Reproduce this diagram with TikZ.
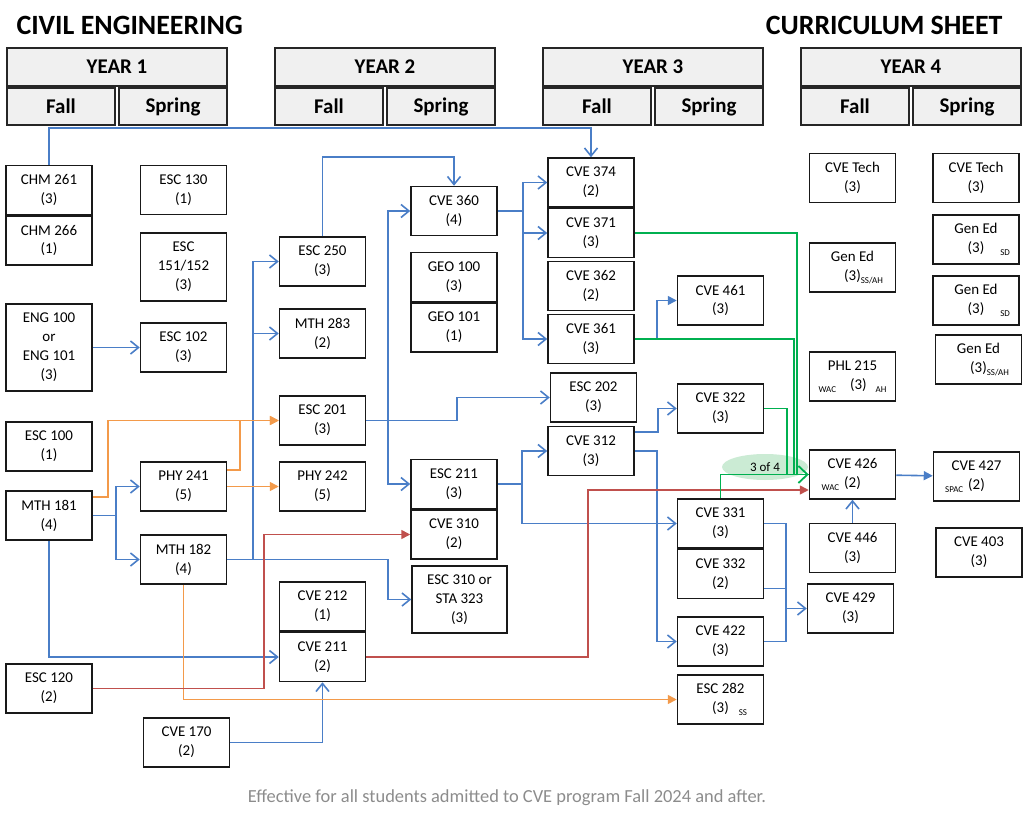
\documentclass[tikz,border=0pt]{standalone}
\usepackage{fontspec}
\setmainfont{Carlito}
\usepackage{tikz}
\usetikzlibrary{arrows.meta, positioning, shapes.geometric}

\definecolor{lienbleu}{HTML}{4A7EC7}
\definecolor{lienorange}{HTML}{F39A4A}
\definecolor{lienrouge}{HTML}{C0504D}
\definecolor{lienvert}{HTML}{00B050}
\definecolor{vertclair}{HTML}{CBEBD4}
\definecolor{gristexte}{HTML}{8C8C8C}

\newcommand{\smalltag}[1]{\raisebox{-3pt}{\fontsize{9}{9}\selectfont #1}}

\begin{document}
\begin{tikzpicture}[
    x=1bp, y=-1bp,
    box/.style={rectangle, draw=black!90, line width=1.5bp, minimum width=86bp, minimum height=49bp, inner sep=1pt, align=center, font=\fontsize{15}{19}\selectfont},
    yearbox/.style={rectangle, draw=black!85, line width=1.5bp, fill=gray!12, minimum width=220bp, minimum height=38bp, font=\fontsize{21}{24}\selectfont\bfseries},
    termbox/.style={yearbox, minimum width=108bp, minimum height=37bp},
    arrow/.style={-{Straight Barb[length=8bp,width=13bp]}, line width=1.6bp, lienbleu},
    arrowfill/.style={-{Triangle[length=9bp,width=9bp]}, line width=1.6bp, lienbleu},
    wire/.style={line width=1.6bp, lienbleu},
    prereq/.style={-{Triangle[length=9bp,width=9bp]}, line width=1.6bp, lienorange},
    coreq/.style={-{Triangle[length=9bp,width=9bp]}, line width=1.6bp, lienrouge},
    choice/.style={line width=1.8bp, lienvert},
    choicearrow/.style={choice, -{Straight Barb[length=9bp,width=17bp]}}
]
\useasboundingbox (0,0) rectangle (1024,820);

% Titres
\node[anchor=west, font=\fontsize{28}{30}\selectfont\bfseries] (title) at (13,25) {CIVIL ENGINEERING};
\node[anchor=east, font=\fontsize{28}{30}\selectfont\bfseries] (subtitle) at (1006,25) {CURRICULUM SHEET};

\node[yearbox] (year1) at (117,67) {YEAR 1};
\node[termbox] (fall1) at (61,106.5) {Fall};
\node[termbox] (spring1) at (173,106.5) {Spring};
\node[yearbox] (year2) at (385,67) {YEAR 2};
\node[termbox] (fall2) at (329,106.5) {Fall};
\node[termbox] (spring2) at (441,106.5) {Spring};
\node[yearbox] (year3) at (653,67) {YEAR 3};
\node[termbox] (fall3) at (597,106.5) {Fall};
\node[termbox] (spring3) at (709,106.5) {Spring};
\node[yearbox] (year4) at (911,67) {YEAR 4};
\node[termbox] (fall4) at (855,106.5) {Fall};
\node[termbox] (spring4) at (967,106.5) {Spring};

% Année 1
\node[box] (chm261) at (49,190) {CHM 261\\(3)};
\node[box, below=0pt of chm261] (chm266) {CHM 266\\(1)};
\node[box, minimum height=87bp] (eng100) at (49,347.5) {ENG 100\\or\\ENG 101\\(3)};
\node[box] (esc100) at (49,446.5) {ESC 100\\(1)};
\node[box] (mth181) at (49,515.5) {MTH 181\\(4)};
\node[box] (esc120) at (49,688.5) {ESC 120\\(2)};
\node[box] (esc130) at (183.5,190) {ESC 130\\(1)};
\node[box, minimum height=68bp] (esc151) at (183.5,267) {ESC\\151/152\\(3)};
\node[box] (esc102) at (183.5,347.5) {ESC 102\\(3)};
\node[box] (phy241) at (183.5,486.5) {PHY 241\\(5)};
\node[box] (mth182) at (183.5,559.5) {MTH 182\\(4)};
\node[box] (cve170) at (186.5,742.5) {CVE 170\\(2)};

% Année 2
\node[box] (esc250) at (322.5,261.5) {ESC 250\\(3)};
\node[box] (mth283) at (322.5,333.5) {MTH 283\\(2)};
\node[box] (esc201) at (322.5,420.5) {ESC 201\\(3)};
\node[box] (phy242) at (322.5,486.5) {PHY 242\\(5)};
\node[box] (cve212) at (322.5,606.5) {CVE 212\\(1)};
\node[box, below=0pt of cve212] (cve211) {CVE 211\\(2)};
\node[box] (cve360) at (454,211) {CVE 360\\(4)};
\node[box] (geo100) at (454,277) {GEO 100\\(3)};
\node[box, below=0pt of geo100] (geo101) {GEO 101\\(1)};
\node[box] (esc211) at (454,484) {ESC 211\\(3)};
\node[box, below=0pt of esc211] (cve310) {CVE 310\\(2)};
\node[box, minimum width=95bp, minimum height=67bp] (esc310) at (459.5,599.5) {ESC 310 or\\STA 323\\(3)};

% Année 3
\node[box] (cve374) at (591,182.5) {CVE 374\\(2)};
\node[box, below=0pt of cve374] (cve371) {CVE 371\\(3)};
\node[box] (cve362) at (591,286) {CVE 362\\(2)};
\node[box] (cve361) at (591,339) {CVE 361\\(3)};
\node[box] (esc202) at (593.5,397.5) {ESC 202\\(3)};
\node[box] (cve312) at (591,451) {CVE 312\\(3)};
\node[box] (cve461) at (720.5,300.5) {CVE 461\\(3)};
\node[box] (cve322) at (720.5,408.5) {CVE 322\\(3)};
\node[box] (cve331) at (720.5,523.5) {CVE 331\\(3)};
\node[box, below=0pt of cve331] (cve332) {CVE 332\\(2)};
\node[box] (cve422) at (720.5,641.5) {CVE 422\\(3)};
\node[box] (esc282) at (720.5,699.5) {ESC 282\\(3)\rlap{\hspace{10pt}\smalltag{SS}}};

% Année 4
\node[box] (tech1) at (852.5,178) {CVE Tech\\(3)};
\node[box] (gened1) at (852.5,267.5) {Gen Ed\\(3)\rlap{\smalltag{SS/AH}}};
\node[box] (phl215) at (852.5,376.5) {PHL 215\\\smalltag{WAC}\hspace{14pt}(3)\hspace{9pt}\smalltag{AH}};
\node[box] (cve426) at (852.5,474.5) {CVE 426\\\llap{\smalltag{WAC}\hspace{5pt}}(2)};
\node[box] (cve446) at (852.5,548) {CVE 446\\(3)};
\node[box] (cve429) at (850.5,608.5) {CVE 429\\(3)};
\node[box] (tech2) at (976,178) {CVE Tech\\(3)};
\node[box] (gened2) at (976,239.5) {Gen Ed\\(3)\rlap{\hspace{16pt}\smalltag{SD}}};
\node[box] (gened3) at (976,300.5) {Gen Ed\\(3)\rlap{\hspace{16pt}\smalltag{SD}}};
\node[box] (gened4) at (978.5,359.5) {Gen Ed\\(3)\rlap{\smalltag{SS/AH}}};
\node[box] (cve427) at (976.5,476.5) {CVE 427\\\llap{\smalltag{SPAC}\hspace{5pt}}(2)};
\node[box] (cve403) at (979,552.5) {CVE 403\\(3)};

% Points de jonction
\coordinate (j181) at (116,515.5);
\coordinate (j182) at (253,559.5);
\coordinate (j201) at (388,420.5);
\coordinate (j360) at (523,211);
\coordinate (j211) at (522,484);
\coordinate (j429) at (786,608.5);

% Flèches bleues
\draw[arrow] (chm261.north) -- ++(0,-37) -| (cve374.north);
\draw[arrow] (esc250.north) -- ++(0,-79) -| (cve360.north);
\draw[arrow] (eng100) -- (esc102);
\draw[arrow] (mth181.east) -- (j181) |- (phy241.west);
\draw[arrow] (j181) |- (mth182.west);
\draw[arrow] (mth182.east) -- (j182) |- (esc250.west);
\draw[arrow] (j182) |- (mth283.west);
\draw[arrow] (mth182.east) -- (388,559.5) |- (esc310.west);
\draw[arrow] (mth181.south) |- (cve211.west);
\draw[arrow] (cve170.east) -| (cve211.south);
\draw[arrow] (esc201.east) -- (457,420.5) |- (esc202.west);
\draw[arrow] (j201) |- (cve360.west);
\draw[arrow] (j201) |- (esc211.west);
\draw[arrow] (cve360.east) -- (j360) |- (cve374.west);
\draw[arrow] (j360) |- (cve371.west);
\draw[arrow] (j360) |- (cve361.west);
\draw[arrow] (esc211.east) -- (j211) |- (cve312.west);
\draw[arrow] (j211) |- (cve331.west);
\draw[arrow] ([yshift=19bp]cve312.east) -- ++(23,0) |- (cve322.west);
\draw[arrow] (cve312.east) -- ++(22,0) |- (cve422.west);
\draw[arrowfill] (cve361.east) -- ++(22,0) |- (cve461.west);
\draw[wire] (cve331.east) -- ++(22,0) |- (cve422.east);
\draw[wire] ([yshift=-14.5bp]cve332.east) -- ++(22,0);
\draw[arrow] (j429) -- (cve429.west);
\draw[arrow] (cve446) -- (cve426);
\draw[arrowfill] (cve426) -- (cve427);

% Flèches orange et rouges
\draw[prereq] ([yshift=18.5bp]mth181.east) -- ++(15,0) |- (esc201.west);
\draw[prereq] ([yshift=16.5bp]phy241.east) -- ++(13,0) |- (esc201.west);
\draw[prereq] (phy241) -- (phy242);
\draw[prereq] (mth182.south) |- (esc282.west);
\draw[coreq] (esc120.east) -- ++(171,0) |- (cve310.west);
\draw[coreq] (cve211.east) -- ++(221.5,0) |- ([yshift=-15.5bp]cve426.west);

% 3 sur 4
\node[ellipse, fill=vertclair, minimum width=86bp, minimum height=26bp, inner sep=0pt, font=\fontsize{13}{13}\selectfont] (quota) at (765,467) {3 of 4};
\draw[choice] (cve371.east) -- ++(162,0) |- (cve426.west);
\draw[choice] (cve361.east) -- ++(159,0) |- (cve426.west);
\draw[choice] (cve322.east) -- ++(23,0) |- (cve426.west);
\draw[choicearrow] (cve331.north) |- (cve426.west);

% Note
\node[font=\fontsize{18.5}{20}\selectfont, text=gristexte] (note) at (507,798) {Effective for all students admitted to CVE program Fall 2024 and after.};
\end{tikzpicture}
\end{document}
